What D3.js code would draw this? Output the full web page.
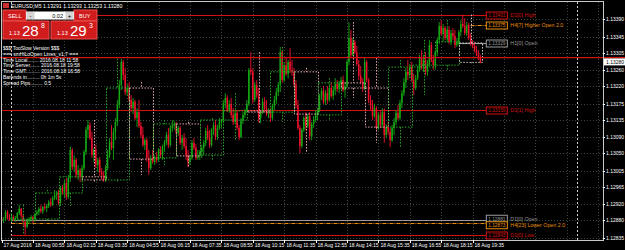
<!DOCTYPE html>
<html>
<head>
<meta charset="utf-8">
<script src="https://cdn.jsdelivr.net/npm/d3@7"></script>
<style>
body { margin: 0; background: #000; }
svg text { font-family: "Liberation Sans", Arial, sans-serif; }
</style>
</head>
<body>
<svg id="chart" width="625" height="250"></svg>
<script>
// price axis labels
const yTicks = [1.13390, 1.13345, 1.13305, 1.13260, 1.13220, 1.13175, 1.13135, 1.13090, 1.13050, 1.13005, 1.12965, 1.12920, 1.12880, 1.12835];
// time labels, one every 16 M5 bars starting 17 Aug 23:35
const timeLabels = ["17 Aug 2016", "18 Aug 00:55", "18 Aug 02:15", "18 Aug 03:35", "18 Aug 04:55", "18 Aug 06:15", "18 Aug 07:35", "18 Aug 08:55", "18 Aug 10:15", "18 Aug 11:35", "18 Aug 12:55", "18 Aug 14:15", "18 Aug 15:35", "18 Aug 16:55", "18 Aug 18:15", "18 Aug 19:35"];

// EURUSD M5 bars from 17 Aug 23:35, [open, high, low, close] in points above 1.12800
const m5 = [
    [86, 91, 76, 81], [81, 88, 73, 83], [83, 106, 78, 101], [101, 106, 81, 86], [86, 96, 78, 81],
    // 00:00
    [81, 98, 76, 88], [88, 93, 78, 83], [83, 91, 76, 86], [86, 101, 83, 98], [98, 119, 93, 109], [109, 111, 86, 91],
    [91, 96, 65, 76], [76, 81, 43, 63], [63, 83, 60, 78], [78, 88, 71, 83], [83, 93, 76, 88], [88, 91, 73, 83],
    // 01:00
    [83, 98, 76, 96], [96, 106, 91, 101], [101, 114, 93, 109], [109, 119, 98, 103], [103, 116, 96, 114], [114, 124, 106, 111],
    [111, 121, 101, 116], [116, 131, 111, 126], [126, 136, 114, 119], [119, 141, 116, 136], [136, 157, 131, 144], [144, 154, 131, 149],
    // 02:00
    [149, 157, 119, 124], [124, 167, 116, 162], [162, 169, 144, 152], [152, 182, 136, 174], [174, 187, 131, 139], [139, 195, 134, 187],
    [187, 266, 177, 258], [258, 263, 207, 215], [215, 245, 202, 233], [233, 238, 187, 195], [195, 220, 182, 207], [207, 212, 177, 190],
    // 03:00
    [190, 220, 177, 212], [212, 258, 207, 253], [253, 316, 245, 309], [309, 334, 288, 321], [321, 329, 283, 288], [288, 304, 238, 245],
    [245, 263, 228, 258], [258, 271, 212, 220], [220, 238, 202, 233], [233, 240, 192, 202], [202, 212, 182, 195], [195, 205, 177, 182],
    // 04:00
    [182, 220, 177, 212], [212, 258, 207, 245], [245, 288, 238, 278], [278, 321, 258, 263], [263, 314, 233, 304], [304, 339, 283, 329],
    [329, 385, 319, 372], [372, 435, 364, 423], [423, 489, 410, 481], [481, 486, 435, 448], [448, 466, 397, 405], [405, 425, 395, 415],
    // 05:00
    [415, 430, 380, 385], [385, 397, 354, 364], [364, 390, 349, 380], [380, 385, 334, 339], [339, 364, 316, 354], [354, 385, 314, 319],
    [319, 329, 288, 296], [296, 316, 266, 271], [271, 288, 258, 283], [283, 288, 228, 238], [238, 258, 195, 212], [212, 245, 207, 235],
    // 06:00
    [238, 258, 223, 228], [228, 245, 220, 240], [240, 253, 225, 233], [233, 263, 228, 258], [258, 268, 238, 245], [245, 271, 233, 266],
    [266, 283, 253, 278], [278, 304, 271, 296], [296, 314, 263, 271], [271, 321, 266, 314], [314, 334, 304, 319], [319, 332, 309, 324],
    // 07:00
    [324, 329, 296, 301], [301, 319, 293, 314], [314, 319, 271, 276], [276, 296, 258, 288], [288, 301, 263, 268], [268, 288, 233, 245],
    [245, 258, 215, 228], [228, 245, 220, 238], [238, 283, 233, 276], [276, 288, 258, 263], [263, 273, 233, 238], [238, 258, 233, 243],
    // 08:00
    [245, 258, 233, 253], [253, 271, 238, 263], [263, 283, 245, 276], [276, 314, 268, 306], [306, 321, 283, 288], [288, 309, 263, 271],
    [271, 314, 266, 309], [309, 329, 296, 321], [321, 334, 283, 291], [291, 321, 283, 314], [314, 339, 309, 329], [329, 337, 314, 334],
    // 09:00
    [334, 385, 326, 377], [377, 402, 364, 390], [390, 397, 354, 359], [359, 385, 352, 375], [375, 390, 339, 347], [347, 364, 321, 329],
    [329, 359, 324, 352], [352, 359, 309, 314], [314, 321, 283, 291], [291, 339, 288, 332], [332, 354, 324, 347], [347, 362, 339, 357],
    // 10:00
    [357, 385, 352, 375], [375, 466, 369, 461], [461, 506, 448, 456], [456, 466, 375, 385], [385, 430, 380, 423], [423, 435, 390, 397],
    [397, 415, 329, 339], [339, 359, 326, 354], [354, 390, 349, 380], [380, 392, 354, 364], [364, 385, 344, 349], [349, 364, 339, 354],
    // 11:00
    [354, 364, 329, 339], [339, 375, 334, 369], [369, 395, 359, 385], [385, 415, 375, 405], [405, 430, 395, 423], [423, 519, 405, 506],
    [506, 511, 428, 435], [435, 481, 430, 473], [473, 491, 446, 451], [451, 486, 440, 481], [481, 516, 453, 461], [461, 486, 446, 456],
    // 12:00
    [456, 466, 420, 425], [425, 435, 364, 372], [372, 385, 309, 314], [314, 321, 250, 268], [268, 314, 263, 309], [309, 344, 304, 339],
    [339, 354, 309, 319], [319, 349, 314, 344], [344, 354, 283, 293], [293, 329, 283, 324], [324, 344, 314, 334], [334, 359, 329, 349],
    // 13:00
    [347, 364, 334, 359], [359, 400, 354, 395], [395, 415, 385, 408], [408, 420, 375, 380], [380, 410, 372, 402], [402, 420, 375, 385],
    [385, 425, 380, 415], [415, 428, 390, 395], [395, 420, 385, 410], [410, 440, 397, 425], [425, 435, 405, 413], [413, 433, 402, 428],
    // 14:00
    [428, 443, 410, 435], [435, 446, 405, 410], [410, 430, 390, 420], [420, 486, 415, 481], [481, 582, 473, 542], [542, 562, 491, 499],
    [499, 542, 496, 532], [532, 537, 501, 506], [506, 522, 471, 476], [476, 486, 435, 446], [446, 471, 425, 430], [430, 440, 405, 415],
    // 15:00
    [415, 491, 410, 481], [481, 486, 430, 435], [435, 440, 377, 385], [385, 397, 359, 372], [372, 385, 334, 344], [344, 375, 339, 364],
    [364, 369, 309, 314], [314, 354, 309, 347], [347, 359, 314, 321], [321, 364, 314, 354], [354, 364, 276, 296], [296, 324, 288, 316],
    // 16:00
    [316, 329, 296, 304], [304, 314, 266, 283], [283, 321, 278, 314], [314, 339, 296, 329], [329, 359, 321, 352], [352, 372, 334, 339],
    [339, 385, 334, 377], [377, 410, 364, 402], [402, 440, 395, 430], [430, 466, 415, 456], [456, 486, 435, 448], [448, 476, 440, 468],
    // 17:00
    [468, 481, 430, 435], [435, 451, 397, 415], [415, 448, 410, 440], [440, 471, 435, 461], [461, 499, 456, 491], [491, 511, 461, 466],
    [466, 499, 456, 486], [486, 506, 448, 456], [456, 486, 446, 476], [476, 537, 471, 524], [524, 532, 481, 486], [486, 499, 461, 473],
    // 18:00
    [473, 511, 461, 506], [506, 542, 496, 537], [537, 582, 527, 572], [572, 587, 547, 552], [552, 577, 532, 567], [567, 572, 537, 542],
    [542, 567, 532, 562], [562, 572, 527, 532], [532, 562, 524, 554], [554, 567, 537, 547], [547, 562, 516, 524], [524, 542, 519, 532],
    // 19:00 (current hour)
    [529, 562, 524, 557], [557, 587, 547, 577], [577, 601, 567, 572], [572, 592, 549, 554], [554, 582, 547, 575], [575, 580, 537, 542],
    [542, 554, 522, 527], [527, 537, 516, 522], [522, 532, 506, 511], [511, 522, 496, 501], [501, 511, 486, 494], [494, 499, 478, 480]
];
const dayStartBar = 5, nextDayBar = 293;

// indicator levels
const levelNames  = ["D1[0] High", "H4[7] Higher Open 2.0", "H1[0] Open", "D1[1] High", "D1[0] Open", "H4[23] Lower Open 2.0", "D1[0] Low"];
const levelPrices = [1.13401, 1.13375, 1.13329, 1.13159, 1.12881, 1.12873, 1.12843];
const levelFrom   = [5, 239, 233, 0, 5, 5, 5];   // bar index where the line starts
const levelKind   = ["high", "hopen", "open", "high", "open", "hopen", "low"];

const bid = 1.13280, redLine = 1.13292;
const title = "EURUSD,M5  1.13291 1.13293 1.13253 1.13280";
const infoLines = ["$$$ TooSlow Version $$$", "===  smHiLoOpen Lines_v1.7  ===", "Time Local........ 2016.08.18 11:58", "Time Server....... 2016.08.18 19:58", "Time GMT.......... 2016.08.18 16:58", "Barends in......... 0h 1m 5s", "Spread Pips......... 0.5"];

const kindStyle = {
    high: { color: "#d41010", dash: null },
    low: { color: "#d41010", dash: null },
    open: { color: "#9a9a9a", dash: null },
    hopen: { color: "#e8900c", dash: "4,1,1,1" }
};

const price = v => 1.128 + v / 100000;
const bars = m5.map((b, i) => ({ i, o: price(b[0]), h: price(b[1]), l: price(b[2]), c: price(b[3]) }));

const svg = d3.select("#chart");
const plot = { left: 2, right: 603, top: 2, bottom: 240 };

const x = d3.scaleLinear().domain([0, 306]).range([1.6, 602.1]);
const y = d3.scaleLinear().domain([1.128299, 1.134305]).range([240, 3]);
const px = v => Math.round(x(v)) + 0.5;

svg.append("rect").attr("width", 625).attr("height", 250).attr("fill", "#000");

// grid
const grid = svg.append("g").attr("stroke", "#3a463c").attr("stroke-width", 1).attr("stroke-dasharray", "1,2");
grid.selectAll(".gy").data(yTicks).enter().append("line")
    .attr("x1", plot.left).attr("x2", plot.right)
    .attr("y1", d => Math.round(y(d)) + 0.5).attr("y2", d => Math.round(y(d)) + 0.5);
grid.selectAll(".gx").data(d3.range(16, 306, 16)).enter().append("line")
    .attr("x1", px).attr("x2", px)
    .attr("y1", plot.top).attr("y2", plot.bottom);

// day separators
svg.selectAll(".sep").data([dayStartBar, nextDayBar]).enter().append("line")
    .attr("x1", px).attr("x2", px)
    .attr("y1", plot.top).attr("y2", plot.bottom)
    .attr("stroke", "#d0d0d0").attr("stroke-dasharray", "2,2");

// level lines (under the candles)
const labelBar = 247;
const levelY = levelPrices.map(p => Math.round(y(p)) + 0.5);
levelNames.forEach((name, k) => {
    const st = kindStyle[levelKind[k]];
    svg.append("line").attr("x1", x(levelFrom[k])).attr("x2", x(labelBar)).attr("y1", levelY[k]).attr("y2", levelY[k])
        .attr("stroke", st.color).attr("stroke-width", 1.2).attr("stroke-dasharray", st.dash);
});

// M5 candles
const bull = "#14a814", bear = "#f0102e";
const candles = svg.append("g");
candles.selectAll("line").data(bars).enter().append("line")
    .attr("x1", d => x(d.i)).attr("x2", d => x(d.i))
    .attr("y1", d => y(d.h)).attr("y2", d => y(d.l))
    .attr("stroke", d => d.c >= d.o ? bull : bear).attr("stroke-width", 0.9);
candles.selectAll("rect").data(bars).enter().append("rect")
    .attr("x", d => x(d.i) - 0.75).attr("width", 1.5)
    .attr("y", d => y(Math.max(d.o, d.c)))
    .attr("height", d => Math.max(0.8, Math.abs(y(d.o) - y(d.c))))
    .attr("fill", d => d.c >= d.o ? bull : bear);

// H1 candles built from the M5 bars, drawn as dotted boxes
const h1 = d3.range(dayStartBar, bars.length, 12).map(s => {
    const grp = bars.slice(s, s + 12);
    return { start: s, o: grp[0].o, c: grp[grp.length - 1].c, h: d3.max(grp, d => d.h), l: d3.min(grp, d => d.l), live: s + 12 > bars.length - 1 };
});
const boxColor = d => d.live ? "#c8c8c8" : (d.c >= d.o ? "#23a523" : "#e0a3ab");
const boxes = svg.append("g").attr("fill", "none").attr("stroke-width", 1).attr("stroke-dasharray", "1.5,1.5");
h1.forEach(d => {
    const x0 = px(d.start), x1 = px(d.start + 12), xc = px(d.start + 6);
    const top = Math.max(d.o, d.c), bot = Math.min(d.o, d.c);
    boxes.append("rect").attr("x", x0).attr("y", y(top)).attr("width", x1 - x0).attr("height", Math.max(0.5, y(bot) - y(top)))
        .attr("stroke", boxColor(d));
    boxes.append("line").attr("x1", xc).attr("x2", xc).attr("y1", y(d.h)).attr("y2", y(top)).attr("stroke", boxColor(d));
    boxes.append("line").attr("x1", xc).attr("x2", xc).attr("y1", y(bot)).attr("y2", y(d.l)).attr("stroke", boxColor(d));
});

// level labels: spread apart labels whose lines are too close
const tagY = levelY.slice();
d3.range(tagY.length).sort((a, b) => tagY[a] - tagY[b]).forEach((k, n, order) => {
    if (n === 0) return;
    const prev = order[n - 1], gap = tagY[k] - tagY[prev];
    if (gap < 6.5) { tagY[prev] -= (6.5 - gap) / 2; tagY[k] += (6.5 - gap) / 2; }
});
const tags = svg.append("g");
levelNames.forEach((name, k) => {
    const st = kindStyle[levelKind[k]];
    tags.append("rect").attr("x", x(labelBar)).attr("y", tagY[k] - 3.5).attr("width", 21).attr("height", 7)
        .attr("fill", "#000").attr("stroke", st.color).attr("stroke-width", 1);
    tags.append("text").attr("x", x(labelBar) + 10.5).attr("y", tagY[k] + 1.8).attr("text-anchor", "middle")
        .attr("font-size", 4.8).attr("fill", st.color).text(levelPrices[k].toFixed(5));
    tags.append("text").attr("x", x(labelBar) + 24).attr("y", tagY[k] + 1.8)
        .attr("font-family", "'Liberation Mono', monospace").attr("font-size", 5.3).attr("fill", st.color).text(name);
});

// red price line
svg.append("line").attr("x1", 0).attr("x2", 625).attr("y1", y(redLine)).attr("y2", y(redLine))
    .attr("stroke", "#d41010").attr("stroke-width", 1.2);

// frame
svg.append("rect").attr("x", plot.left - 0.5).attr("y", plot.top - 0.5).attr("width", plot.right - plot.left + 1).attr("height", plot.bottom - plot.top + 1)
    .attr("fill", "none").attr("stroke", "#c8c8c8").attr("stroke-width", 1);

// price axis
const yAxis = svg.append("g");
yAxis.selectAll("text").data(yTicks).enter().append("text")
    .attr("x", 606).attr("y", d => y(d) + 2).attr("font-size", 5).attr("fill", "#fff").text(d => d.toFixed(5));
yAxis.selectAll("line").data(yTicks).enter().append("line")
    .attr("x1", plot.right).attr("x2", plot.right + 2).attr("y1", d => Math.round(y(d)) + 0.5).attr("y2", d => Math.round(y(d)) + 0.5)
    .attr("stroke", "#fff");
yAxis.append("rect").attr("x", 604).attr("y", y(bid) - 4).attr("width", 21).attr("height", 7).attr("fill", "#fff");
yAxis.append("text").attr("x", 606).attr("y", y(bid) + 1.5).attr("font-size", 5).attr("fill", "#000").text(bid.toFixed(5));

// time axis
const xAxis = svg.append("g");
xAxis.selectAll("text").data(timeLabels).enter().append("text")
    .attr("x", (d, k) => x(16 * k) + 2).attr("y", 247).attr("font-size", 5).attr("fill", "#fff").text(d => d);
xAxis.selectAll("line").data(timeLabels).enter().append("line")
    .attr("x1", (d, k) => px(16 * k)).attr("x2", (d, k) => px(16 * k))
    .attr("y1", plot.bottom).attr("y2", plot.bottom + 3).attr("stroke", "#fff");

// title
svg.append("rect").attr("x", 3).attr("y", 3).attr("width", 6).attr("height", 5).attr("fill", "#c83030");
svg.append("text").attr("x", 11).attr("y", 8).attr("font-size", 5.2).attr("fill", "#fff").text(title);

// one-click trading panel
const panel = svg.append("g");
const red = "#d01c1c";
panel.append("rect").attr("x", 3).attr("y", 10).attr("width", 23).attr("height", 11).attr("fill", red).attr("stroke", "#e85050");
panel.append("rect").attr("x", 74).attr("y", 10).attr("width", 23).attr("height", 11).attr("fill", red).attr("stroke", "#e85050");
panel.append("text").attr("x", 8).attr("y", 17.5).attr("font-size", 5.5).attr("fill", "#fff").text("SELL");
panel.append("text").attr("x", 79).attr("y", 17.5).attr("font-size", 5.5).attr("fill", "#fff").text("BUY");
panel.append("rect").attr("x", 26).attr("y", 11.5).attr("width", 48).attr("height", 8).attr("fill", "#fff");
panel.append("rect").attr("x", 26.5).attr("y", 12).attr("width", 8).attr("height", 7).attr("fill", "#d4d4d4");
panel.append("rect").attr("x", 65.5).attr("y", 12).attr("width", 8).attr("height", 7).attr("fill", "#d4d4d4");
panel.append("text").attr("x", 30.5).attr("y", 17.5).attr("text-anchor", "middle").attr("font-size", 6).attr("fill", "#000").text("-");
panel.append("text").attr("x", 69.5).attr("y", 17.5).attr("text-anchor", "middle").attr("font-size", 6).attr("fill", "#000").text("+");
panel.append("text").attr("x", 63).attr("y", 17.8).attr("text-anchor", "end").attr("font-size", 5.5).attr("fill", "#000").text("0.02");
[[3, "1.13", "28", "8"], [51, "1.13", "29", "3"]].forEach(([bx, big0, big, sup]) => {
    panel.append("rect").attr("x", bx).attr("y", 21).attr("width", 46).attr("height", 18).attr("fill", red).attr("stroke", "#e85050");
    panel.append("text").attr("x", bx + 6).attr("y", 35).attr("font-size", 5.5).attr("fill", "#fff").text(big0);
    panel.append("text").attr("x", bx + 19).attr("y", 36).attr("font-size", 15).attr("fill", "#fff").text(big);
    panel.append("text").attr("x", bx + 38).attr("y", 28).attr("font-size", 7).attr("fill", "#fff").text(sup);
});

// info block
svg.append("g").selectAll("text").data(infoLines).enter().append("text")
    .attr("x", 3).attr("y", (d, k) => 50 + k * 5.8).attr("font-size", 5).attr("fill", "#fff").text(d => d);
</script>
</body>
</html>
